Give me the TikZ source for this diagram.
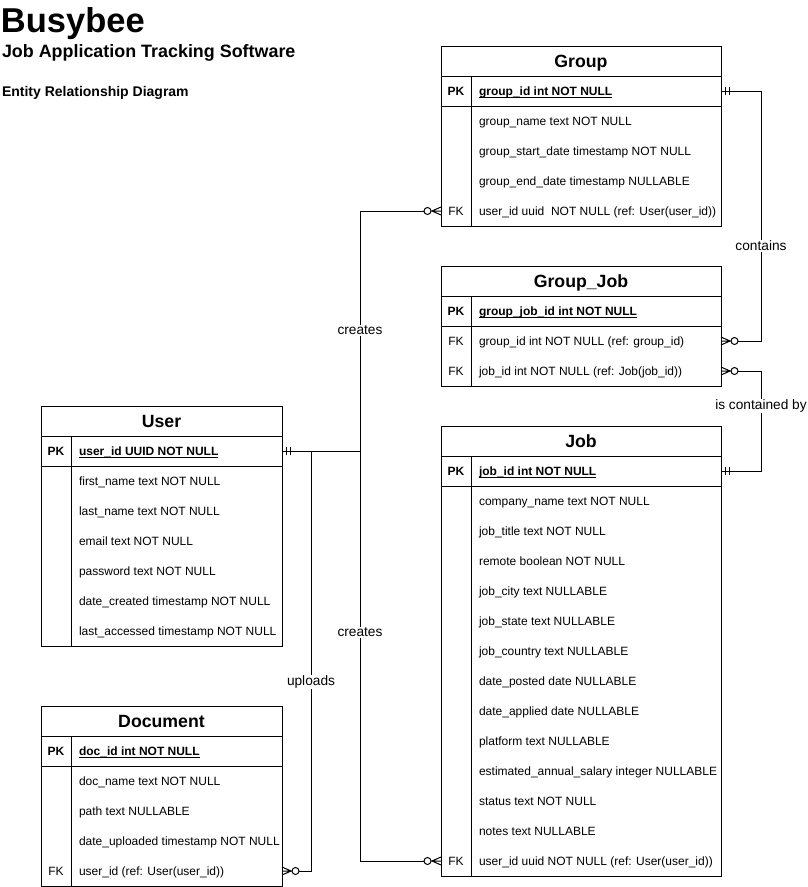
\documentclass[tikz,border=0pt]{standalone}
\usepackage{fontspec}
\setmainfont{Liberation Sans}
\usepackage{tikz}
\usetikzlibrary{arrows.meta, positioning}

% ER markers: two bars (one and only one), circle + crow's foot (zero or many)
\pgfdeclarearrow{
  name = onlyone,
  setup code = {
    \pgfarrowssettipend{0pt}
    \pgfarrowssetlineend{0pt}
    \pgfarrowssetbackend{-9pt}
  },
  drawing code = {
    \pgfpathmoveto{\pgfqpoint{-4pt}{4pt}}
    \pgfpathlineto{\pgfqpoint{-4pt}{-4pt}}
    \pgfpathmoveto{\pgfqpoint{-8pt}{4pt}}
    \pgfpathlineto{\pgfqpoint{-8pt}{-4pt}}
    \pgfusepathqstroke
  }
}
\pgfdeclarearrow{
  name = zeromany,
  setup code = {
    \pgfarrowssettipend{0pt}
    \pgfarrowssetlineend{-17pt}
    \pgfarrowssetbackend{-17pt}
  },
  drawing code = {
    \pgfpathmoveto{\pgfqpoint{0pt}{4pt}}
    \pgfpathlineto{\pgfqpoint{-9pt}{0pt}}
    \pgfpathlineto{\pgfqpoint{0pt}{-4pt}}
    \pgfpathmoveto{\pgfqpoint{0pt}{0pt}}
    \pgfpathlineto{\pgfqpoint{-10pt}{0pt}}
    \pgfpathcircle{\pgfqpoint{-13.5pt}{0pt}}{3.5pt}
    \pgfusepathqstroke
  }
}

\begin{document}
\begin{tikzpicture}[x=1pt, y=-1pt, line width=1pt,
    every node/.style={outer sep=0pt},
    tblhead/.style={draw, minimum height=30pt, inner sep=0pt, text height=12.7pt, text depth=0pt, font=\bfseries\fontsize{17.7}{20}\selectfont},
    keycell/.style={minimum width=30pt, minimum height=30pt, inner sep=0pt, text height=9pt, text depth=0pt, font=\bfseries\fontsize{12}{14}\selectfont},
    fkcell/.style={keycell, font=\fontsize{12}{14}\selectfont},
    field/.style={inner sep=0pt, text height=9pt, text depth=0pt, font=\fontsize{12}{14}\selectfont},
    pkfield/.style={field, font=\bfseries\fontsize{12}{14}\selectfont},
    relline/.style={arrows={onlyone-zeromany}},
    rellabel/.style={fill=white, inner sep=1pt, font=\fontsize{13.7}{16}\selectfont}]
  \useasboundingbox (0,0) rectangle (808,887);

  % titles
  \node[anchor=base west, inner sep=0pt, font=\bfseries\fontsize{34.5}{40}\selectfont] (title) at (1,32) {Busybee};
  \node[anchor=base west, inner sep=0pt, font=\bfseries\fontsize{17.9}{20}\selectfont] (subtitle) at (2,57) {Job Application Tracking Software};
  \node[anchor=base west, inner sep=0pt, font=\bfseries\fontsize{14}{17}\selectfont] (kind) at (2,96) {Entity Relationship Diagram};

  % Group
  \node[tblhead, minimum width=280pt] (group) at (581,61) {Group};
  \node[keycell, below right=0pt and 0pt of group.south west] (gk1) {PK};
  \node[pkfield, right=8pt of gk1] (gf1) {\underline{\smash{group\_id int NOT NULL}}};
  \foreach \txt [count=\i from 2] in {group\_name text NOT NULL, group\_start\_date timestamp NOT NULL, group\_end\_date timestamp NULLABLE} {
    \pgfmathtruncatemacro\j{\i-1}
    \node[keycell, below=0pt of gk\j] (gk\i) {};
    \node[field, right=8pt of gk\i] (gf\i) {\txt};
  }
  \node[fkcell, below=0pt of gk4] (gk5) {FK};
  \node[field, right=8pt of gk5] (gf5) {user\_id uuid\ \ NOT NULL (ref: User(user\_id))};
  \draw (group.north west) rectangle (gk5.south -| group.east);
  \draw (gk1.south west) -- (gk1.south -| group.east);
  \draw (gk1.north east) -- (gk5.south east);

  % Group_Job
  \node[tblhead, minimum width=280pt] (groupjob) at (581,281) {Group\_Job};
  \node[keycell, below right=0pt and 0pt of groupjob.south west] (gjk1) {PK};
  \node[pkfield, right=8pt of gjk1] (gjf1) {\underline{\smash{group\_job\_id int NOT NULL}}};
  \node[fkcell, below=0pt of gjk1] (gjk2) {FK};
  \node[field, right=8pt of gjk2] (gjf2) {group\_id int NOT NULL (ref: group\_id)};
  \node[fkcell, below=0pt of gjk2] (gjk3) {FK};
  \node[field, right=8pt of gjk3] (gjf3) {job\_id int NOT NULL (ref: Job(job\_id))};
  \draw (groupjob.north west) rectangle (gjk3.south -| groupjob.east);
  \draw (gjk1.south west) -- (gjk1.south -| groupjob.east);
  \draw (gjk1.north east) -- (gjk3.south east);

  % Job
  \node[tblhead, minimum width=280pt] (job) at (581,441) {Job};
  \node[keycell, below right=0pt and 0pt of job.south west] (jk1) {PK};
  \node[pkfield, right=8pt of jk1] (jf1) {\underline{\smash{job\_id int NOT NULL}}};
  \foreach \txt [count=\i from 2] in {company\_name text NOT NULL, job\_title text NOT NULL, remote boolean NOT NULL, job\_city text NULLABLE, job\_state text NULLABLE, job\_country text NULLABLE, date\_posted date NULLABLE, date\_applied date NULLABLE, platform text NULLABLE, estimated\_annual\_salary integer NULLABLE, status text NOT NULL, notes text NULLABLE} {
    \pgfmathtruncatemacro\j{\i-1}
    \node[keycell, below=0pt of jk\j] (jk\i) {};
    \node[field, right=8pt of jk\i] (jf\i) {\txt};
  }
  \node[fkcell, below=0pt of jk13] (jk14) {FK};
  \node[field, right=8pt of jk14] (jf14) {user\_id uuid NOT NULL (ref: User(user\_id))};
  \draw (job.north west) rectangle (jk14.south -| job.east);
  \draw (jk1.south west) -- (jk1.south -| job.east);
  \draw (jk1.north east) -- (jk14.south east);

  % User
  \node[tblhead, minimum width=241pt] (user) at (161.5,421) {User};
  \node[keycell, below right=0pt and 0pt of user.south west] (uk1) {PK};
  \node[pkfield, right=8pt of uk1] (uf1) {\underline{\smash{user\_id UUID NOT NULL}}};
  \foreach \txt [count=\i from 2] in {first\_name text NOT NULL, last\_name text NOT NULL, email text NOT NULL, password text NOT NULL, date\_created timestamp NOT NULL, last\_accessed timestamp NOT NULL} {
    \pgfmathtruncatemacro\j{\i-1}
    \node[keycell, below=0pt of uk\j] (uk\i) {};
    \node[field, right=8pt of uk\i] (uf\i) {\txt};
  }
  \draw (user.north west) rectangle (uk7.south -| user.east);
  \draw (uk1.south west) -- (uk1.south -| user.east);
  \draw (uk1.north east) -- (uk7.south east);

  % Document
  \node[tblhead, minimum width=241pt] (doc) at (161.5,721) {Document};
  \node[keycell, below right=0pt and 0pt of doc.south west] (dk1) {PK};
  \node[pkfield, right=8pt of dk1] (df1) {\underline{\smash{doc\_id int NOT NULL}}};
  \foreach \txt [count=\i from 2] in {doc\_name text NOT NULL, path text NULLABLE, date\_uploaded timestamp NOT NULL} {
    \pgfmathtruncatemacro\j{\i-1}
    \node[keycell, below=0pt of dk\j] (dk\i) {};
    \node[field, right=8pt of dk\i] (df\i) {\txt};
  }
  \node[fkcell, below=0pt of dk4] (dk5) {FK};
  \node[field, right=8pt of dk5] (df5) {user\_id (ref: User(user\_id))};
  \draw (doc.north west) rectangle (dk5.south -| doc.east);
  \draw (dk1.south west) -- (dk1.south -| doc.east);
  \draw (dk1.north east) -- (dk5.south east);

  % relationships
  \draw[relline] (uk1 -| user.east) -- ++(78,0) |- node[rellabel, pos=0.252] {creates} (gk5.west);
  \draw[relline] (uk1 -| user.east) -- ++(78,0) |- node[rellabel, pos=0.221] {creates} (jk14.west);
  \draw[relline] (uk1 -| user.east) -- ++(29,0) |- node[rellabel, pos=0.275] {uploads} (dk5 -| doc.east);
  \draw[relline] (gk1 -| group.east) -- ++(40,0) |- node[rellabel, pos=0.31] {contains} (gjk2 -| groupjob.east);
  \draw[relline] (jk1 -| job.east) -- ++(40,0) |- node[rellabel, pos=0.325] {is contained by} (gjk3 -| groupjob.east);
\end{tikzpicture}
\end{document}
